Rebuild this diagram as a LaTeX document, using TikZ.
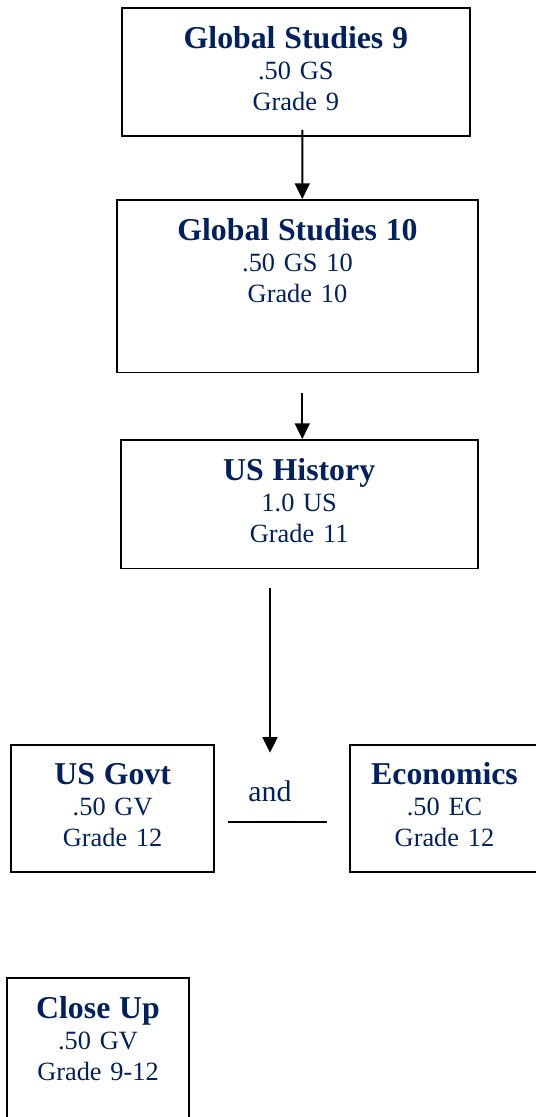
\documentclass[tikz,border=0pt]{standalone}
\usepackage{fontspec}
\setmainfont{Liberation Serif}
\usetikzlibrary{arrows.meta}
\definecolor{navy}{HTML}{002060}
\newcommand{\ctitle}[1]{{\fontsize{18.1pt}{18pt}\selectfont\bfseries #1}}

\begin{document}
\begin{tikzpicture}[
        >={Triangle[length=8.9pt,width=8.5pt]},
        line width=1.1pt,
        course/.style={draw, anchor=north, align=center, inner sep=0pt,
            text height=0.82cm, text depth=1.75cm, text=navy,
            font=\fontsize{15pt}{17.6pt}\selectfont}
    ]
            \useasboundingbox (0,0) rectangle (10.7,-22.34);

            % Grade 9 node
            \node[course, text width=6.97cm] (gs9) at (5.917,-0.134) {\ctitle{Global Studies 9}\\.50 GS\\Grade 9};

            % Grade 10 node
            \node[course, text width=7.21cm, text depth=2.63cm] (gs10) at (5.95,-3.98) {\ctitle{Global Studies 10}\\.50 GS 10\\Grade 10};
            \draw[->] ([xshift=0.129cm,yshift=0.146cm]gs9.south) -- ([xshift=0.096cm]gs10.north);

            % Grade 11 node
            \node[course, text width=7.14cm] (ush) at (5.984,-8.78) {\ctitle{US History}\\1.0 US\\Grade 11};
            \draw[->] ([xshift=0.096cm,yshift=-0.388cm]gs10.south) -- ([xshift=0.062cm]ush.north);

            % Grade 12 nodes
            \coordinate (ushend) at (5.4,-15.054);
            \draw[->] ([xshift=-0.584cm,yshift=-0.38cm]ush.south) -- (ushend);

            \node[course, text width=4.07cm, text height=0.79cm] (govt) at (2.253,-14.88) {\ctitle{US Govt}\\.50 GV\\Grade 12};
            \node[course, text width=3.78cm, text height=0.79cm] (econ) at (8.89,-14.88) {\ctitle{Economics}\\.50 EC\\Grade 12};

            \node[anchor=base, text=navy, font=\fontsize{17pt}{20pt}\selectfont] (and) at (5.4,-16.034) {and};
            \coordinate (andl) at (4.566,-16.44);
            \coordinate (andr) at (6.534,-16.44);
            \draw (andl) -- (andr);

            % Any grade node
            \node[course, text width=3.65cm, text depth=2.13cm] (closeup) at (1.96,-19.534) {\ctitle{Close Up}\\.50 GV\\Grade 9-12};
\end{tikzpicture}
\end{document}
